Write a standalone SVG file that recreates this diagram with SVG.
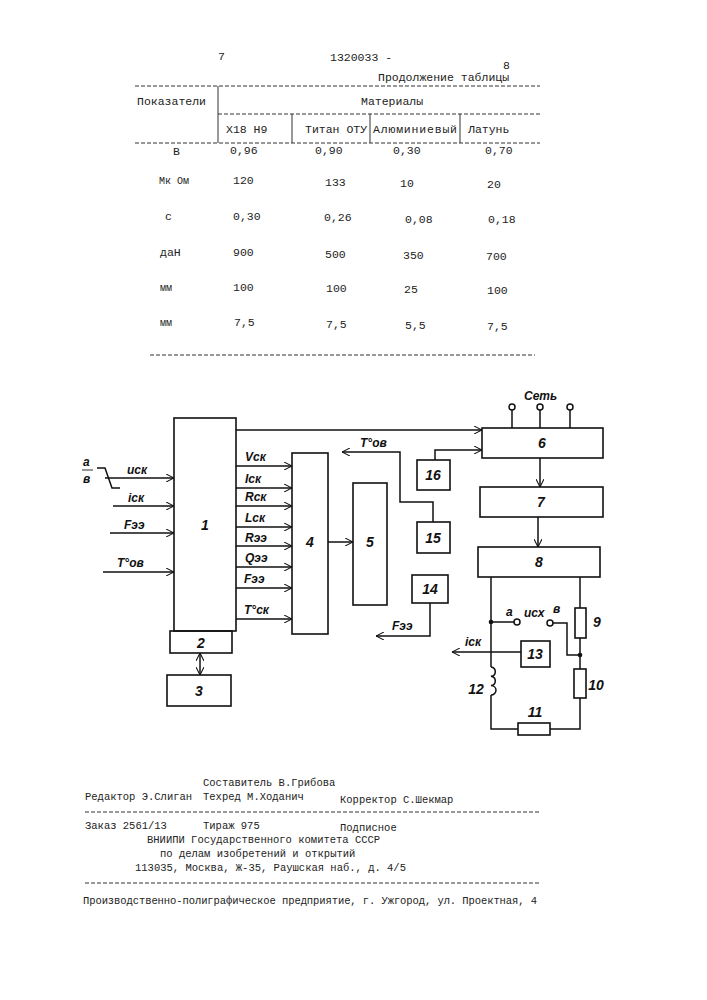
<svg xmlns="http://www.w3.org/2000/svg" width="707" height="1000" viewBox="0 0 707 1000">
<defs>
<marker id="ar" viewBox="0 0 10 10" refX="10" refY="5" markerWidth="8" markerHeight="8" orient="auto-start-reverse" markerUnits="userSpaceOnUse"><path d="M0,0 L10,5 L0,10" fill="none" stroke="#111" stroke-width="1.3"/></marker>
</defs>
<style>
.t{font-family:"Liberation Mono",monospace;font-size:11.5px;fill:#222}
.f{font-family:"Liberation Mono",monospace;font-size:10.5px;fill:#222}
.l{font-family:"Liberation Sans",sans-serif;font-style:italic;font-weight:bold;font-size:12px;fill:#111}
.n{font-family:"Liberation Sans",sans-serif;font-style:italic;font-weight:bold;font-size:14px;fill:#111;text-anchor:middle}
.b{fill:none;stroke:#111;stroke-width:1.6}
.w{fill:none;stroke:#111;stroke-width:1.5}
.a{fill:none;stroke:#111;stroke-width:1.5;marker-end:url(#ar)}
.d{stroke:#333;stroke-width:1;stroke-dasharray:4 2}
.s{stroke:#333;stroke-width:1}
</style>
<rect width="707" height="1000" fill="#fff"/>
<g id="table">
<text class="t" x="218" y="60">7</text>
<text class="t" x="330" y="61">1320033 -</text>
<text class="t" x="503" y="69">8</text>
<text class="t" x="378" y="81">Продолжение таблицы</text>
<line class="d" x1="135" y1="86" x2="540" y2="86"/>
<line class="s" x1="218" y1="86" x2="218" y2="143"/>
<line class="d" x1="218" y1="114" x2="540" y2="114"/>
<line class="s" x1="292" y1="114" x2="292" y2="143"/>
<line class="s" x1="370" y1="114" x2="370" y2="143"/>
<line class="s" x1="460" y1="114" x2="460" y2="143"/>
<line class="d" x1="135" y1="143" x2="540" y2="143"/>
<line class="d" x1="150" y1="355" x2="535" y2="355"/>
<text class="t" x="137" y="105">Показатели</text>
<text class="t" x="361" y="105">Материалы</text>
<text class="t" x="226" y="133">X18 H9</text>
<text class="t" x="305" y="133">Титан ОТУ</text>
<text class="t" x="373" y="133" textLength="84">Алюминиевый</text>
<text class="t" x="468" y="133">Латунь</text>
<g class="t">
<text x="173" y="155">В</text><text x="230" y="154">0,96</text><text x="315" y="154">0,90</text><text x="393" y="154">0,30</text><text x="485" y="154">0,70</text>
<text x="159" y="184" font-size="10">Мк Ом</text><text x="233" y="184">120</text><text x="325" y="186">133</text><text x="400" y="187">10</text><text x="487" y="188">20</text>
<text x="165" y="220">с</text><text x="233" y="220">0,30</text><text x="324" y="221">0,26</text><text x="405" y="223">0,08</text><text x="488" y="223">0,18</text>
<text x="160" y="256">даН</text><text x="233" y="256">900</text><text x="325" y="258">500</text><text x="403" y="259">350</text><text x="486" y="260">700</text>
<text x="160" y="291" font-size="10">мм</text><text x="233" y="291">100</text><text x="326" y="292">100</text><text x="404" y="293">25</text><text x="487" y="294">100</text>
<text x="160" y="326" font-size="10">мм</text><text x="234" y="326">7,5</text><text x="326" y="328">7,5</text><text x="405" y="329">5,5</text><text x="487" y="330">7,5</text>
</g>
</g>
<g id="n1"><rect class="b" x="174" y="418" width="62" height="213"/><text class="n" x="205" y="530">1</text></g>
<g id="n2"><rect class="b" x="170" y="631" width="62" height="22"/><text class="n" x="201" y="648">2</text></g>
<g id="n3"><rect class="b" x="167" y="675" width="64" height="31"/><text class="n" x="199" y="696">3</text></g>
<g id="n4"><rect class="b" x="292" y="453" width="36" height="181"/><text class="n" x="310" y="547">4</text></g>
<g id="n5"><rect class="b" x="353" y="483" width="34" height="122"/><text class="n" x="370" y="547">5</text></g>
<g id="n6"><rect class="b" x="482" y="428" width="121" height="30"/><text class="n" x="542" y="448">6</text></g>
<g id="n7"><rect class="b" x="480" y="487" width="123" height="30"/><text class="n" x="541" y="507">7</text></g>
<g id="n8"><rect class="b" x="478" y="547" width="122" height="30"/><text class="n" x="539" y="567">8</text></g>
<g id="n13"><rect class="b" x="521" y="641" width="29" height="26"/><text class="n" x="535" y="659">13</text></g>
<g id="n14"><rect class="b" x="412" y="575" width="36" height="28"/><text class="n" x="430" y="594">14</text></g>
<g id="n15"><rect class="b" x="417" y="522" width="33" height="31"/><text class="n" x="433" y="543">15</text></g>
<g id="n16"><rect class="b" x="417" y="460" width="33" height="30"/><text class="n" x="433" y="480">16</text></g>
<g id="connectors">
<path class="w" d="M97,468 H105 L112,488 H120"/>
<line class="s" x1="82" y1="470" x2="93" y2="470"/>
<path class="a" d="M105,478 H174"/>
<path class="a" d="M113,506 H174"/>
<path class="a" d="M110,533 H174"/>
<path class="a" d="M103,572 H174"/>
<path class="a" d="M236,466 H292"/>
<path class="a" d="M236,488 H292"/>
<path class="a" d="M236,506 H292"/>
<path class="a" d="M236,527 H292"/>
<path class="a" d="M236,546 H292"/>
<path class="a" d="M236,567 H292"/>
<path class="a" d="M236,588 H292"/>
<path class="a" d="M236,619 H292"/>
<path class="a" d="M328,542 H353"/>
<path class="a" d="M236,430 H482"/>
<path class="a" d="M200,653 V675" style="marker-start:url(#ar)"/>
<path class="a" d="M435,460 V450 H482"/>
<path class="a" d="M433,522 V502 H400 V452 H342"/>
<path class="a" d="M430,603 V636 H376"/>
<path class="a" d="M540,458 V487"/>
<path class="a" d="M538,517 V547"/>
<path class="w" d="M512,410 V428 M540,410 V428 M570,410 V428"/>
<circle class="w" cx="512" cy="407" r="3" fill="#fff"/>
<circle class="w" cx="540" cy="407" r="3" fill="#fff"/>
<circle class="w" cx="570" cy="407" r="3" fill="#fff"/>
<path class="w" d="M491,577 V667 M491,695 V729 H518 M550,729 H580 V698 M580,669 V638 M580,608 V577"/>
<path class="w" d="M491,667 a5,4.7 0 0 1 0,9.3 a5,4.7 0 0 1 0,9.3 a5,4.7 0 0 1 0,9.4"/>
<rect class="b" x="518" y="723" width="32" height="12"/>
<rect class="b" x="574" y="669" width="12" height="29"/>
<rect class="b" x="575" y="608" width="11" height="30"/>
<path class="w" d="M491,622 H514"/>
<circle class="w" cx="517" cy="622" r="3" fill="#fff"/>
<circle class="w" cx="550" cy="623" r="3" fill="#fff"/>
<path class="w" d="M553,623 H567 V655 H580"/>
<circle cx="491" cy="622" r="2.3" fill="#111"/>
<circle cx="580" cy="655" r="2.3" fill="#111"/>
<path class="a" d="M521,652 H452"/>
</g>
<g id="labels">
<text class="l" x="83" y="466">a</text><text class="l" x="83" y="483">в</text>
<text class="l" x="127" y="474">uск</text>
<text class="l" x="128" y="502">iск</text>
<text class="l" x="124" y="529">Fээ</text>
<text class="l" x="117" y="567">T°ов</text>
<text class="l" x="245" y="461">Vск</text>
<text class="l" x="245" y="483">Iск</text>
<text class="l" x="245" y="501">Rск</text>
<text class="l" x="245" y="522">Lск</text>
<text class="l" x="245" y="542">Rээ</text>
<text class="l" x="245" y="562">Qээ</text>
<text class="l" x="244" y="583">Fээ</text>
<text class="l" x="244" y="614">T°ск</text>
<text class="l" x="360" y="447">T°ов</text>
<text class="l" x="392" y="630">Fээ</text>
<text class="l" x="524" y="400">Сеть</text>
<text class="l" x="506" y="616">a</text>
<text class="l" x="524" y="617">uсх</text>
<text class="l" x="553" y="613">в</text>
<text class="l" x="465" y="646">iск</text>
<text class="n" x="597" y="627">9</text>
<text class="n" x="596" y="690">10</text>
<text class="n" x="535" y="717">11</text>
<text class="n" x="476" y="694">12</text>
</g>
<g id="footer">
<text class="f" x="203" y="786">Составитель В.Грибова</text>
<text class="f" x="85" y="800">Редактор Э.Слиган</text>
<text class="f" x="203" y="800">Техред М.Ходанич</text>
<text class="f" x="340" y="803">Корректор С.Шекмар</text>
<line class="d" x1="85" y1="812" x2="540" y2="812"/>
<text class="f" x="85" y="829">Заказ 2561/13</text>
<text class="f" x="203" y="829">Тираж 975</text>
<text class="f" x="340" y="831">Подписное</text>
<text class="f" x="147" y="843">ВНИИПИ Государственного комитета СССР</text>
<text class="f" x="160" y="857">по делам изобретений и открытий</text>
<text class="f" x="135" y="871">113035, Москва, Ж-35, Раушская наб., д. 4/5</text>
<line class="d" x1="85" y1="883" x2="540" y2="883"/>
<text class="f" x="83" y="904" textLength="454">Производственно-полиграфическое предприятие, г. Ужгород, ул. Проектная, 4</text>
</g>
</svg>
